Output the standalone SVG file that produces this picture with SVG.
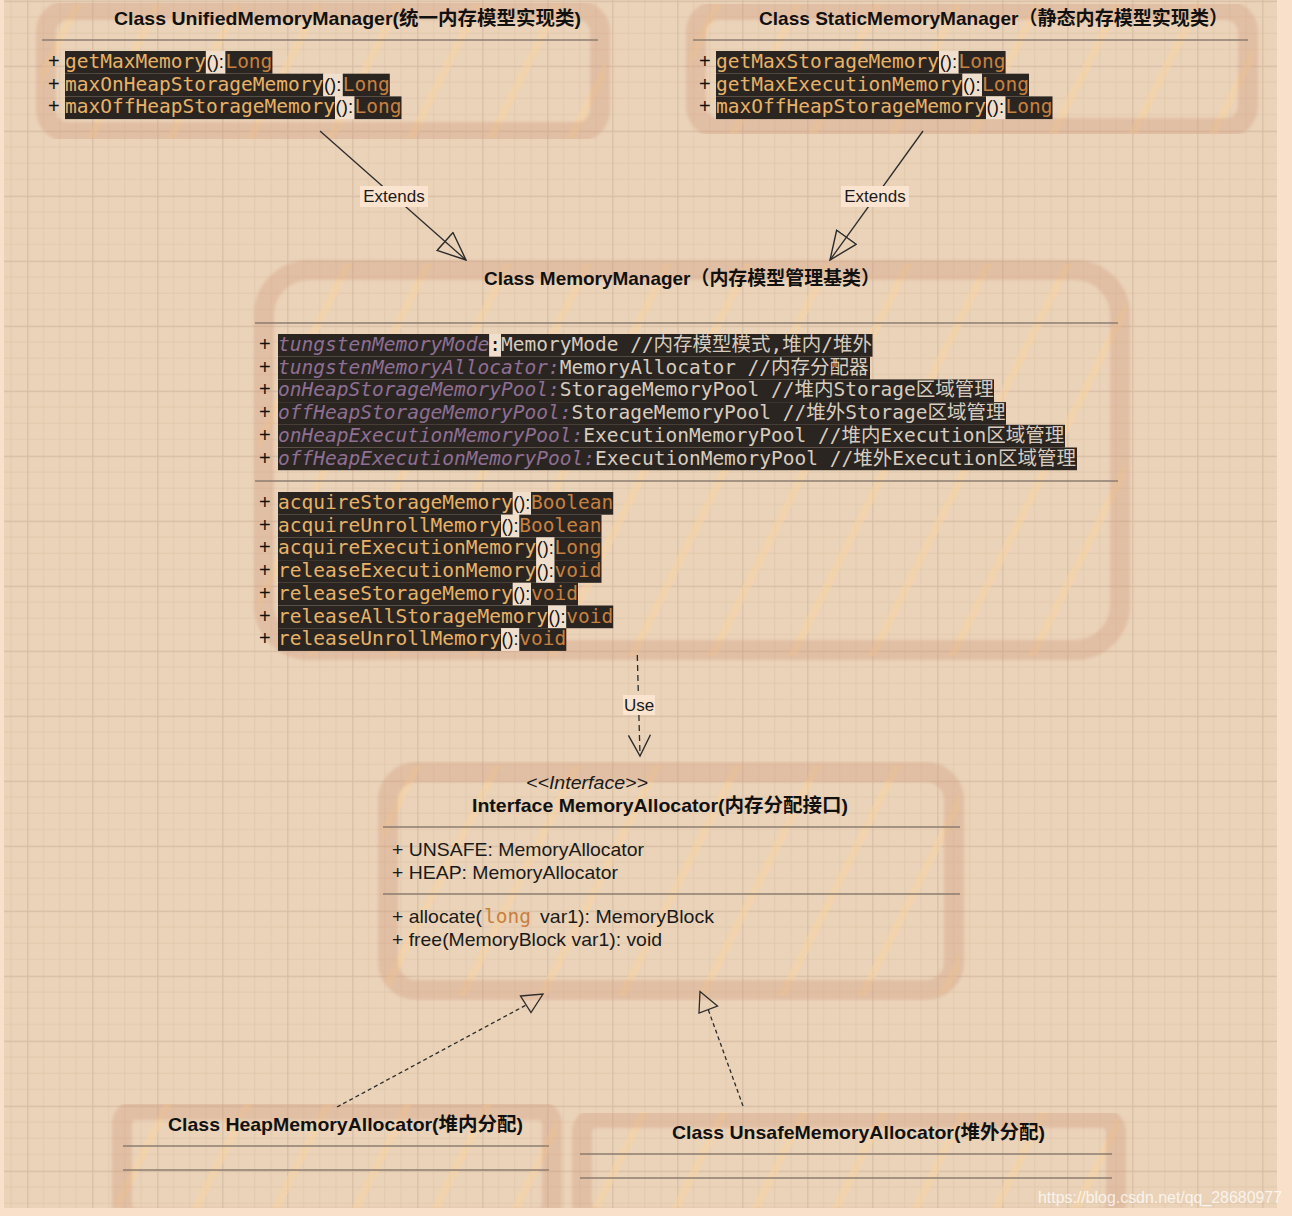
<svg xmlns="http://www.w3.org/2000/svg" width="1292" height="1216" viewBox="0 0 1292 1216">
<defs>
<pattern id="grid" x="27.3" y="0.7" width="65" height="65" patternUnits="userSpaceOnUse">
<path d="M16.25 0V65M32.5 0V65M48.75 0V65M0 16.25H65M0 32.5H65M0 48.75H65" stroke="#e2c9ad" stroke-width="1" fill="none"/>
<path d="M0.5 0V65M0 0.5H65" stroke="#d5bca2" stroke-width="1.3" fill="none"/>
</pattern>
<pattern id="hatch" x="0" y="0" width="80" height="160" patternUnits="userSpaceOnUse">
<path d="M0 160L80 0M-80 160L0 0M80 160L160 0" stroke="#f7d2a0" stroke-width="8" stroke-linecap="round" fill="none"/>
</pattern>
<filter id="soft" x="-5%" y="-5%" width="110%" height="110%">
<feGaussianBlur stdDeviation="1.6"/>
</filter>
<marker id="tri" viewBox="0 0 30 26" refX="29" refY="13" markerWidth="30" markerHeight="26" markerUnits="userSpaceOnUse" orient="auto">
<path d="M1 1L29 13L1 25Z" fill="none" stroke="#2b2b2b" stroke-width="1.4"/>
</marker>
<marker id="open" viewBox="0 0 24 24" refX="22" refY="12" markerWidth="24" markerHeight="24" markerUnits="userSpaceOnUse" orient="auto">
<path d="M1 1L22 12L1 23" fill="none" stroke="#2b2b2b" stroke-width="1.4"/>
</marker>
</defs>
<style>
.box{fill:none;stroke:#cf987a;stroke-opacity:0.34;stroke-width:20;filter:url(#soft)}
.hat{fill:url(#hatch);opacity:0.5}
.sep{stroke:#8c7d70;stroke-width:1.5}
.title{font-family:"Liberation Sans","Noto Sans CJK SC",sans-serif;font-weight:bold;font-size:19px;fill:#111}
.sans{font-family:"Liberation Sans","Noto Sans CJK SC",sans-serif;font-size:19px;fill:#1a1a1a}
.plus{font-family:"Liberation Sans",sans-serif;font-size:20px;fill:#111}
.mono{font-family:"DejaVu Sans Mono","Noto Sans CJK SC",monospace;font-size:19.5px}
.fn{fill:#e8b268}
.kw{fill:#c8803f}
.fld{fill:#8f6f93;font-style:italic}
.typ{fill:#d8ccbf}
.dk{fill:#2a2521}
.lt{fill:#f1dfcd}
.par{font-family:"Liberation Sans",sans-serif;font-size:18px;fill:#111}
.lbl{font-family:"Liberation Sans",sans-serif;font-size:17px;fill:#1a1a1a}
.lblbg{fill:#fae3cf}
.conn{fill:none;stroke:#2b2b2b;stroke-width:1.3}
</style>
<rect x="0" y="0" width="1292" height="1216" fill="#f8e0ca"/>
<rect x="4" y="0" width="1273" height="1208" fill="#ead3b9"/>
<rect x="4" y="0" width="1273" height="1208" fill="url(#grid)"/>

<g id="node-unified">
<rect class="hat" x="40" y="4" width="566" height="134" rx="22"/>
<rect class="box" x="46" y="10" width="554" height="122" rx="22"/>
<text class="title" x="114" y="25" textLength="467" lengthAdjust="spacingAndGlyphs">Class UnifiedMemoryManager(统一内存模型实现类)</text>
<line class="sep" x1="42" y1="40" x2="598" y2="40"/>
<text class="plus" x="48" y="68">+</text>
<rect class="dk" x="65" y="51" width="140.9" height="22.7"/><text class="mono fn" x="65" y="68">getMaxMemory</text>
<rect class="lt" x="205.9" y="51" width="19.5" height="22.7"/><text class="par" x="206.5" y="68" textLength="17.5" lengthAdjust="spacingAndGlyphs">():</text>
<rect class="dk" x="225.4" y="51" width="47" height="22.7"/><text class="mono kw" x="225.4" y="68">Long</text>
<text class="plus" x="48" y="90.7">+</text>
<rect class="dk" x="65" y="73.7" width="258.3" height="22.7"/><text class="mono fn" x="65" y="90.7">maxOnHeapStorageMemory</text>
<rect class="lt" x="323.3" y="73.7" width="19.5" height="22.7"/><text class="par" x="323.9" y="90.7" textLength="17.5" lengthAdjust="spacingAndGlyphs">():</text>
<rect class="dk" x="342.8" y="73.7" width="47" height="22.7"/><text class="mono kw" x="342.8" y="90.7">Long</text>
<text class="plus" x="48" y="113.4">+</text>
<rect class="dk" x="65" y="96.4" width="270" height="22.7"/><text class="mono fn" x="65" y="113.4">maxOffHeapStorageMemory</text>
<rect class="lt" x="335" y="96.4" width="19.5" height="22.7"/><text class="par" x="335.6" y="113.4" textLength="17.5" lengthAdjust="spacingAndGlyphs">():</text>
<rect class="dk" x="354.5" y="96.4" width="47" height="22.7"/><text class="mono kw" x="354.5" y="113.4">Long</text>
</g>

<g id="node-static">
<rect class="hat" x="690" y="4" width="564" height="130" rx="22"/>
<rect class="box" x="696" y="10" width="552" height="118" rx="22"/>
<text class="title" x="759" y="25" textLength="469" lengthAdjust="spacingAndGlyphs">Class StaticMemoryManager（静态内存模型实现类）</text>
<line class="sep" x1="693" y1="40" x2="1248" y2="40"/>
<text class="plus" x="699" y="68">+</text>
<rect class="dk" x="716" y="51" width="223.1" height="22.7"/><text class="mono fn" x="716" y="68">getMaxStorageMemory</text>
<rect class="lt" x="939.1" y="51" width="19.5" height="22.7"/><text class="par" x="939.7" y="68" textLength="17.5" lengthAdjust="spacingAndGlyphs">():</text>
<rect class="dk" x="958.6" y="51" width="47" height="22.7"/><text class="mono kw" x="958.6" y="68">Long</text>
<text class="plus" x="699" y="90.7">+</text>
<rect class="dk" x="716" y="73.7" width="246.5" height="22.7"/><text class="mono fn" x="716" y="90.7">getMaxExecutionMemory</text>
<rect class="lt" x="962.5" y="73.7" width="19.5" height="22.7"/><text class="par" x="963.1" y="90.7" textLength="17.5" lengthAdjust="spacingAndGlyphs">():</text>
<rect class="dk" x="982" y="73.7" width="47" height="22.7"/><text class="mono kw" x="982" y="90.7">Long</text>
<text class="plus" x="699" y="113.4">+</text>
<rect class="dk" x="716" y="96.4" width="270" height="22.7"/><text class="mono fn" x="716" y="113.4">maxOffHeapStorageMemory</text>
<rect class="lt" x="986" y="96.4" width="19.5" height="22.7"/><text class="par" x="986.6" y="113.4" textLength="17.5" lengthAdjust="spacingAndGlyphs">():</text>
<rect class="dk" x="1005.5" y="96.4" width="47" height="22.7"/><text class="mono kw" x="1005.5" y="113.4">Long</text>
</g>

<g id="node-memorymanager">
<rect class="hat" x="258" y="264" width="868" height="392" rx="45"/>
<rect class="box" x="264" y="270" width="856" height="380" rx="45"/>
<text class="title" x="484" y="285" textLength="396" lengthAdjust="spacingAndGlyphs">Class MemoryManager（内存模型管理基类）</text>
<line class="sep" x1="255" y1="323" x2="1118" y2="323"/>
<line class="sep" x1="255" y1="481" x2="1118" y2="481"/>
<text class="plus" x="259" y="351">+</text>
<rect class="dk" x="278" y="334" width="211.3" height="22.7"/><text class="mono fld" x="278" y="351">tungstenMemoryMode</text>
<rect class="lt" x="489.3" y="334" width="11.7" height="22.7"/><text class="mono" x="489.3" y="351" fill="#111">:</text>
<rect class="dk" x="501" y="334" width="371.5" height="22.7"/><text class="mono typ" x="501" y="351">MemoryMode //内存模型模式,堆内/堆外</text>
<text class="plus" x="259" y="373.7">+</text>
<rect class="dk" x="278" y="356.7" width="592" height="22.7"/><text class="mono" x="278" y="373.7"><tspan class="fld">tungstenMemoryAllocator:</tspan><tspan class="typ">MemoryAllocator //内存分配器</tspan></text>
<text class="plus" x="259" y="396.4">+</text>
<rect class="dk" x="278" y="379.4" width="716" height="22.7"/><text class="mono" x="278" y="396.4"><tspan class="fld">onHeapStorageMemoryPool:</tspan><tspan class="typ">StorageMemoryPool //堆内Storage区域管理</tspan></text>
<text class="plus" x="259" y="419.1">+</text>
<rect class="dk" x="278" y="402.1" width="728" height="22.7"/><text class="mono" x="278" y="419.1"><tspan class="fld">offHeapStorageMemoryPool:</tspan><tspan class="typ">StorageMemoryPool //堆外Storage区域管理</tspan></text>
<text class="plus" x="259" y="441.8">+</text>
<rect class="dk" x="278" y="424.8" width="787" height="22.7"/><text class="mono" x="278" y="441.8"><tspan class="fld">onHeapExecutionMemoryPool:</tspan><tspan class="typ">ExecutionMemoryPool //堆内Execution区域管理</tspan></text>
<text class="plus" x="259" y="464.5">+</text>
<rect class="dk" x="278" y="447.5" width="799" height="22.7"/><text class="mono" x="278" y="464.5"><tspan class="fld">offHeapExecutionMemoryPool:</tspan><tspan class="typ">ExecutionMemoryPool //堆外Execution区域管理</tspan></text>

<text class="plus" x="259" y="509">+</text>
<rect class="dk" x="278" y="492" width="234.8" height="22.7"/><text class="mono fn" x="278" y="509">acquireStorageMemory</text>
<rect class="lt" x="512.8" y="492" width="18.2" height="22.7"/><text class="par" x="513.3" y="509" textLength="17" lengthAdjust="spacingAndGlyphs">():</text>
<rect class="dk" x="531" y="492" width="82.2" height="22.7"/><text class="mono kw" x="531" y="509">Boolean</text>
<text class="plus" x="259" y="531.7">+</text>
<rect class="dk" x="278" y="514.7" width="223.1" height="22.7"/><text class="mono fn" x="278" y="531.7">acquireUnrollMemory</text>
<rect class="lt" x="501.1" y="514.7" width="18.2" height="22.7"/><text class="par" x="501.6" y="531.7" textLength="17" lengthAdjust="spacingAndGlyphs">():</text>
<rect class="dk" x="519.3" y="514.7" width="82.2" height="22.7"/><text class="mono kw" x="519.3" y="531.7">Boolean</text>
<text class="plus" x="259" y="554.4">+</text>
<rect class="dk" x="278" y="537.4" width="258.3" height="22.7"/><text class="mono fn" x="278" y="554.4">acquireExecutionMemory</text>
<rect class="lt" x="536.3" y="537.4" width="18.2" height="22.7"/><text class="par" x="536.8" y="554.4" textLength="17" lengthAdjust="spacingAndGlyphs">():</text>
<rect class="dk" x="554.5" y="537.4" width="47" height="22.7"/><text class="mono kw" x="554.5" y="554.4">Long</text>
<text class="plus" x="259" y="577.1">+</text>
<rect class="dk" x="278" y="560.1" width="258.3" height="22.7"/><text class="mono fn" x="278" y="577.1">releaseExecutionMemory</text>
<rect class="lt" x="536.3" y="560.1" width="18.2" height="22.7"/><text class="par" x="536.8" y="577.1" textLength="17" lengthAdjust="spacingAndGlyphs">():</text>
<rect class="dk" x="554.5" y="560.1" width="47" height="22.7"/><text class="mono kw" x="554.5" y="577.1">void</text>
<text class="plus" x="259" y="599.8">+</text>
<rect class="dk" x="278" y="582.8" width="234.8" height="22.7"/><text class="mono fn" x="278" y="599.8">releaseStorageMemory</text>
<rect class="lt" x="512.8" y="582.8" width="18.2" height="22.7"/><text class="par" x="513.3" y="599.8" textLength="17" lengthAdjust="spacingAndGlyphs">():</text>
<rect class="dk" x="531" y="582.8" width="47" height="22.7"/><text class="mono kw" x="531" y="599.8">void</text>
<text class="plus" x="259" y="622.5">+</text>
<rect class="dk" x="278" y="605.5" width="270" height="22.7"/><text class="mono fn" x="278" y="622.5">releaseAllStorageMemory</text>
<rect class="lt" x="548" y="605.5" width="18.2" height="22.7"/><text class="par" x="548.5" y="622.5" textLength="17" lengthAdjust="spacingAndGlyphs">():</text>
<rect class="dk" x="566.2" y="605.5" width="47" height="22.7"/><text class="mono kw" x="566.2" y="622.5">void</text>
<text class="plus" x="259" y="645.2">+</text>
<rect class="dk" x="278" y="628.2" width="223.1" height="22.7"/><text class="mono fn" x="278" y="645.2">releaseUnrollMemory</text>
<rect class="lt" x="501.1" y="628.2" width="18.2" height="22.7"/><text class="par" x="501.6" y="645.2" textLength="17" lengthAdjust="spacingAndGlyphs">():</text>
<rect class="dk" x="519.3" y="628.2" width="47" height="22.7"/><text class="mono kw" x="519.3" y="645.2">void</text>
</g>

<g id="node-allocator">
<rect class="hat" x="382" y="766" width="578" height="230" rx="28"/>
<rect class="box" x="388" y="772" width="566" height="218" rx="28"/>
<text class="sans" x="526" y="789" font-style="italic" font-size="18" textLength="122" lengthAdjust="spacingAndGlyphs">&lt;&lt;Interface&gt;&gt;</text>
<text class="title" x="472" y="812" textLength="376" lengthAdjust="spacingAndGlyphs">Interface MemoryAllocator(内存分配接口)</text>
<line class="sep" x1="383" y1="827" x2="960" y2="827"/>
<text class="sans" x="392" y="855.5" textLength="252" lengthAdjust="spacingAndGlyphs">+ UNSAFE: MemoryAllocator</text>
<text class="sans" x="392" y="878.5" textLength="226" lengthAdjust="spacingAndGlyphs">+ HEAP: MemoryAllocator</text>
<line class="sep" x1="383" y1="894" x2="960" y2="894"/>
<text class="sans" x="392" y="922.5" textLength="90" lengthAdjust="spacingAndGlyphs">+ allocate(</text>
<text class="mono kw" x="484" y="922.5" font-size="18">long</text>
<text class="sans" x="540" y="922.5" textLength="174" lengthAdjust="spacingAndGlyphs">var1): MemoryBlock</text>
<text class="sans" x="392" y="945.5" textLength="270" lengthAdjust="spacingAndGlyphs">+ free(MemoryBlock var1): void</text>
</g>

<g id="node-heap">
<rect class="hat" x="116" y="1104" width="442" height="112" rx="14"/>
<rect class="box" x="122" y="1110" width="430" height="108" rx="14"/>
<text class="title" x="168" y="1131" textLength="355" lengthAdjust="spacingAndGlyphs">Class HeapMemoryAllocator(堆内分配)</text>
<line class="sep" x1="123" y1="1146" x2="549" y2="1146"/>
<line class="sep" x1="123" y1="1170" x2="549" y2="1170"/>
</g>

<g id="node-unsafe">
<rect class="hat" x="576" y="1112" width="544" height="104" rx="14"/>
<rect class="box" x="582" y="1118" width="534" height="100" rx="14"/>
<text class="title" x="672" y="1139" textLength="373" lengthAdjust="spacingAndGlyphs">Class UnsafeMemoryAllocator(堆外分配)</text>
<line class="sep" x1="580" y1="1154" x2="1112" y2="1154"/>
<line class="sep" x1="580" y1="1178" x2="1112" y2="1178"/>
</g>

<g id="connectors">
<path class="conn" d="M320 131L466 260" marker-end="url(#tri)"/>
<rect class="lblbg" x="360" y="186" width="68" height="21"/>
<text class="lbl" x="394" y="202" text-anchor="middle">Extends</text>
<path class="conn" d="M923 131L830 260" marker-end="url(#tri)"/>
<rect class="lblbg" x="841" y="186" width="68" height="21"/>
<text class="lbl" x="875" y="202" text-anchor="middle">Extends</text>
<path class="conn" d="M637.3 655L640 756" stroke-dasharray="6 4" marker-end="url(#open)"/>
<rect class="lblbg" x="623" y="695" width="32" height="20"/>
<text class="lbl" x="639" y="711" text-anchor="middle">Use</text>
<path class="conn" d="M337 1107L528 1004" stroke-dasharray="4 3"/>
<path class="conn" d="M520.5 996L543 994L531 1012.5Z"/>
<path class="conn" d="M743 1106L708 1009" stroke-dasharray="4 3"/>
<path class="conn" d="M700 991.5L717.5 1006L699 1013Z"/>
</g>
<rect x="0" y="1208" width="1292" height="8" fill="#f8e0ca"/>
<text x="1038" y="1203" font-family="Liberation Sans,sans-serif" font-size="16" fill="#ffffff" fill-opacity="0.75" textLength="244" lengthAdjust="spacingAndGlyphs">https://blog.csdn.net/qq_28680977</text>
</svg>
